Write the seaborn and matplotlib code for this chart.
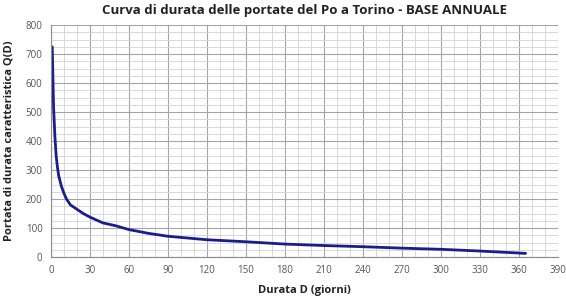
import numpy as np
import pandas as pd
import matplotlib
matplotlib.use("Agg")
import matplotlib.pyplot as plt
import seaborn as sns
from matplotlib.ticker import MultipleLocator

# Duration curve data
durata = [1, 2, 3, 4, 5, 6, 8, 10, 12, 15, 20, 25, 30, 40, 50, 60, 75, 90,
          105, 120, 150, 180, 210, 240, 270, 300, 330, 365]
portata = [725, 520, 420, 350, 310, 280, 245, 220, 200, 180, 165, 150, 138,
           118, 108, 95, 82, 72, 66, 60, 53, 45, 40, 36, 31, 27, 21, 13]
x_ticks = list(range(0, 391, 30))
y_ticks = list(range(0, 801, 100))

df = pd.DataFrame({"D": durata, "Q": portata})

sns.set_style("white")
plt.rcParams['font.family'] = ['Open Sans', 'DejaVu Sans']

fig = plt.figure(figsize=(5.66, 2.99), dpi=100)
ax = fig.add_axes([0.090, 0.140, 0.896, 0.776])

sns.lineplot(data=df, x="D", y="Q", ax=ax, color="#1c1c8a", linewidth=2)

ax.set_xlim(0, 390)
ax.set_ylim(0, 800)
ax.set_xticks(x_ticks)
ax.set_yticks(y_ticks)
ax.xaxis.set_minor_locator(MultipleLocator(10))
ax.yaxis.set_minor_locator(MultipleLocator(25))
ax.grid(which="major", color="#a5a5a5", linewidth=0.8)
ax.grid(which="minor", color="#d2d2d2", linewidth=0.6)
ax.set_axisbelow(True)
for s in ["top", "right"]:
    ax.spines[s].set_visible(False)
for s in ["left", "bottom"]:
    ax.spines[s].set_color("#8a8a8a")
    ax.spines[s].set_linewidth(0.8)
ax.tick_params(which="major", length=3, color="#8a8a8a", labelsize=7,
               labelcolor="#555555", pad=3, direction="out")

ax.set_title("Curva di durata delle portate del Po a Torino - BASE ANNUALE",
             fontsize=9.5, fontweight="bold", pad=8, color="#222222")
ax.set_xlabel("Durata D (giorni)", fontsize=8, fontweight="bold", labelpad=6,
              color="#222222")
ax.set_ylabel("Portata di durata caratteristica Q(D)", fontsize=8,
              fontweight="bold", labelpad=8, color="#222222")

fig.savefig("out.png", dpi=100, facecolor="white")
